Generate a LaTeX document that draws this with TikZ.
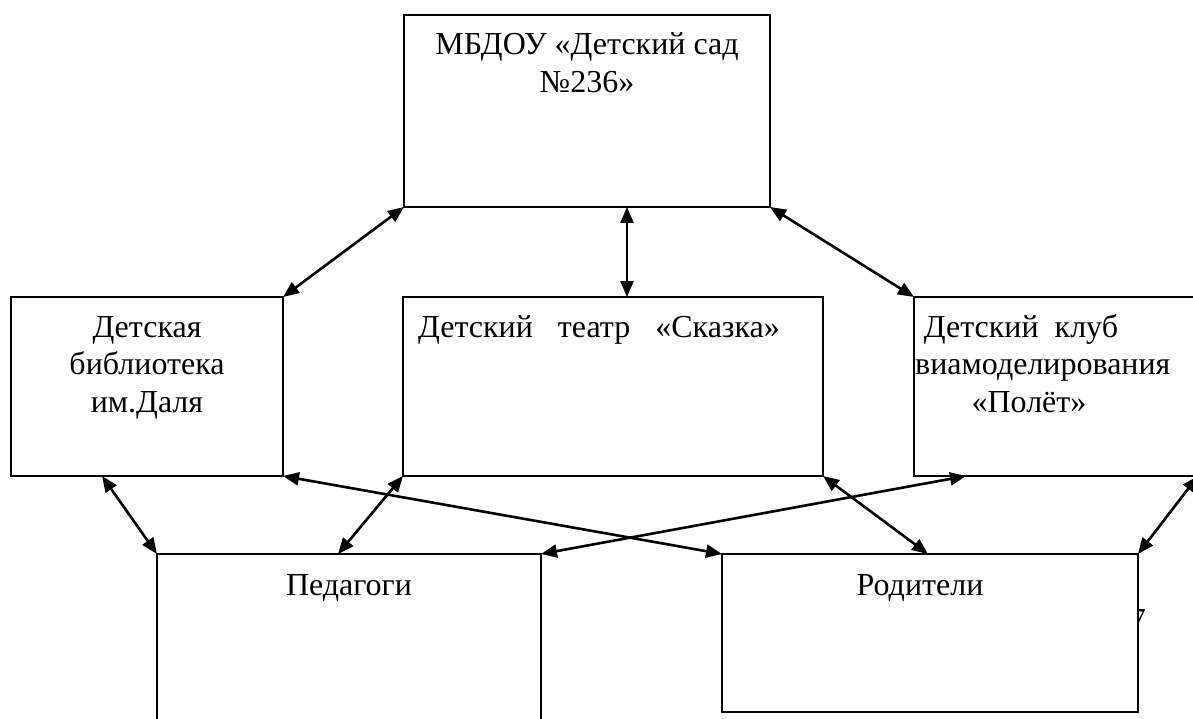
\documentclass[tikz,border=0pt]{standalone}
\usepackage{fontspec}
\setmainfont{Liberation Serif}
\usetikzlibrary{arrows.meta}
\begin{document}
\begin{tikzpicture}[x=1pt,y=-1pt,
  box/.style={draw,line width=1.8pt,fill=white,inner sep=0pt,outer sep=0pt,anchor=north west},
  lbl/.style={inner sep=0pt,anchor=base,font=\fontsize{32}{38}\selectfont},
  link/.style={line width=2.6pt,{Triangle[length=16pt,width=13pt]}-{Triangle[length=16pt,width=13pt]}}]
\useasboundingbox (0,0) rectangle (1193,719);
\clip (0,0) rectangle (1193,719);
\node[lbl,anchor=base east] (pg) at (1146,630) {7};
\node[box,minimum width=366pt,minimum height=192pt] (top) at (404,15) {};
\node[box,minimum width=272pt,minimum height=179pt] (lib) at (11,297) {};
\node[box,minimum width=420pt,minimum height=179pt] (thr) at (403,297) {};
\node[box,minimum width=330pt,minimum height=179pt] (club) at (914,297) {};
\node[box,minimum width=384pt,minimum height=220pt] (ped) at (157,554) {};
\node[box,minimum width=416pt,minimum height=158pt] (par) at (722,554) {};
\node[lbl] (t1) at (587,55) {МБДОУ «Детский сад};
\node[lbl] (t2) at (587,93) {№236»};
\node[lbl] (l1) at (147,337) {Детская};
\node[lbl] (l2) at (147,374) {библиотека};
\node[lbl] (l3) at (147,412) {им.Даля};
\node[lbl] (th) at (599,337) {Детский\hspace{17pt} театр\hspace{17pt} «Сказка»};
\node[lbl] (c1) at (1021,337) {Детский\ \ клуб};
\node[lbl,anchor=base west] (c2) at (915,374) {виамоделирования};
\node[lbl] (c3) at (1029,412) {«Полёт»};
\node[lbl] (pd) at (349,595) {Педагоги};
\node[lbl] (pr) at (920,595) {Родители};
\draw[link] (top.south west) -- (lib.north east);
\draw[link] ([xshift=223pt]top.south west) -- ([xshift=224pt]thr.north west);
\draw[link] (top.south east) -- (club.north west);
\draw[link] ([xshift=91pt]lib.south west) -- (ped.north west);
\draw[link] (lib.south east) -- (par.north west);
\draw[link] (thr.south west) -- ([xshift=181pt]ped.north west);
\draw[link] (thr.south east) -- ([xshift=206pt]par.north west);
\draw[link] ([xshift=52pt]club.south west) -- (ped.north east);
\coordinate (edge) at (1198,476);
\draw[link] (edge) -- (par.north east);
\end{tikzpicture}
\end{document}
